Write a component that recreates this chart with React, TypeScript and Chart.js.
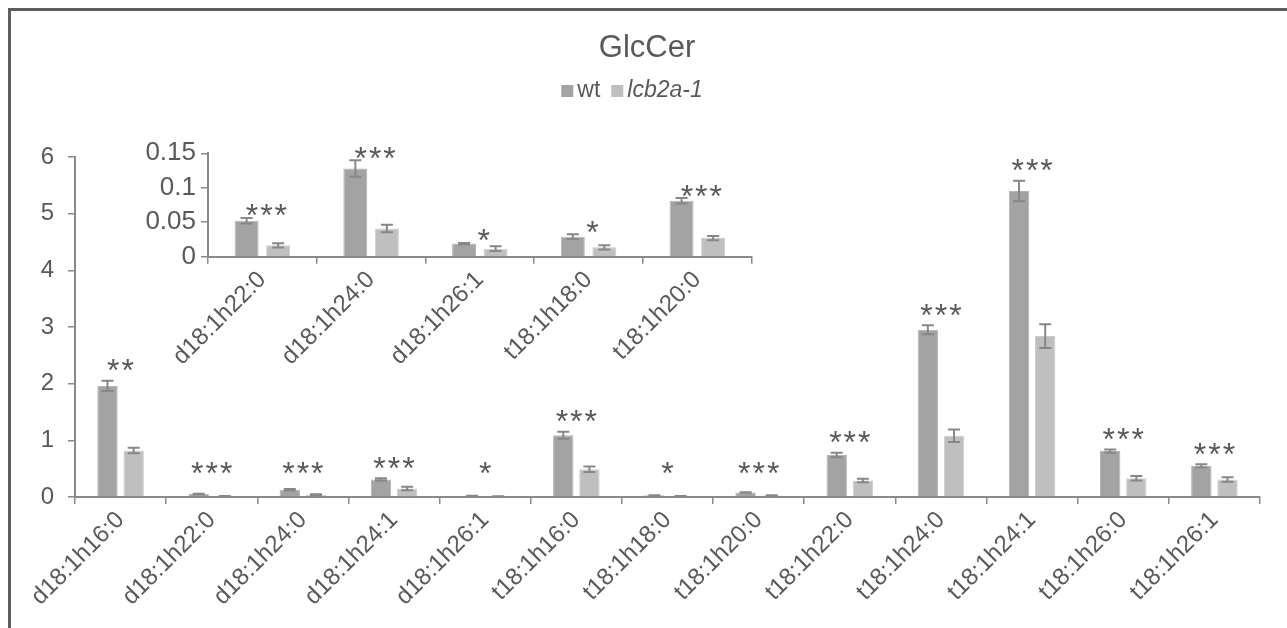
import React, { useEffect, useRef } from 'react';
import { Chart, registerables } from 'chart.js';

Chart.register(...registerables);

// ---------- DATA ----------
const categories = [
  'd18:1h16:0', 'd18:1h22:0', 'd18:1h24:0', 'd18:1h24:1', 'd18:1h26:1',
  't18:1h16:0', 't18:1h18:0', 't18:1h20:0', 't18:1h22:0', 't18:1h24:0',
  't18:1h24:1', 't18:1h26:0', 't18:1h26:1',
];
const wtValues = [1.96, 0.052, 0.128, 0.31, 0.019, 1.09, 0.029, 0.081, 0.74, 2.95, 5.40, 0.81, 0.55];
const wtErrors = [0.09, 0.004, 0.012, 0.02, 0.001, 0.06, 0.0035, 0.004, 0.04, 0.08, 0.18, 0.03, 0.03];
const lcbValues = [0.82, 0.0165, 0.041, 0.15, 0.0116, 0.49, 0.0136, 0.027, 0.29, 1.08, 2.84, 0.33, 0.31];
const lcbErrors = [0.05, 0.003, 0.0055, 0.03, 0.0035, 0.05, 0.003, 0.003, 0.03, 0.11, 0.21, 0.04, 0.04];
const significance = ['**', '***', '***', '***', '*', '***', '*', '***', '***', '***', '***', '***', '***'];

const insetCategories = ['d18:1h22:0', 'd18:1h24:0', 'd18:1h26:1', 't18:1h18:0', 't18:1h20:0'];

const mainYTicks = [0, 1, 2, 3, 4, 5, 6];
const insetYTicks = [0, 0.05, 0.1, 0.15];

const titleText = 'GlcCer';
const seriesNames = ['wt', 'lcb2a-1'];

// ---------- STYLE ----------
const FONT = '"Liberation Sans", Arial, sans-serif';
const TEXT = '#595959';
const WT_COLOR = '#a3a3a3';
const LCB_COLOR = '#bfbfbf';
const ERR_COLOR = '#878787';
const AXIS_COLOR = '#8a8a8a';

const pick = (arr: number[]) => insetCategories.map((c) => arr[categories.indexOf(c)]);
const pickS = (arr: string[]) => insetCategories.map((c) => arr[categories.indexOf(c)]);

function errStarPlugin(errs: number[][], sig: string[], o: { cap: number; fs: number; ls: number; gap: number; minGap: number; dx: number }) {
  return {
    id: 'errstars',
    afterDatasetsDraw(chart: any) {
      const ctx = chart.ctx;
      const yScale = chart.scales.y;
      const xScale = chart.scales.x;
      ctx.save();
      ctx.strokeStyle = ERR_COLOR;
      ctx.lineWidth = 2;
      const tops: number[] = sig.map(() => Infinity);
      chart.data.datasets.forEach((ds: any, di: number) => {
        const meta = chart.getDatasetMeta(di);
        meta.data.forEach((bar: any, i: number) => {
          const v = ds.data[i];
          const e = errs[di][i];
          const x = bar.x;
          const yt = yScale.getPixelForValue(v + e);
          const yb = yScale.getPixelForValue(Math.max(0, v - e));
          ctx.beginPath();
          ctx.moveTo(x, yt);
          ctx.lineTo(x, yb);
          ctx.moveTo(x - o.cap / 2, yt);
          ctx.lineTo(x + o.cap / 2, yt);
          ctx.moveTo(x - o.cap / 2, yb);
          ctx.lineTo(x + o.cap / 2, yb);
          ctx.stroke();
          tops[i] = Math.min(tops[i], yt);
        });
      });
      ctx.fillStyle = TEXT;
      ctx.font = `${o.fs}px ${FONT}`;
      try { (ctx as any).letterSpacing = `${o.ls}px`; } catch (e) { /* ignore */ }
      ctx.textAlign = 'center';
      ctx.textBaseline = 'alphabetic';
      const zero = yScale.getPixelForValue(0);
      sig.forEach((s, i) => {
        const cx = xScale.getPixelForValue(i) + o.dx + o.ls / 2;
        const cy = Math.min(tops[i] - o.gap, zero - o.minGap);
        ctx.fillText(s, cx, cy + 0.575 * o.fs);
      });
      ctx.restore();
    },
  };
}

const titleLegendPlugin = {
  id: 'titleLegend',
  afterDraw(chart: any) {
    const ctx = chart.ctx;
    ctx.save();
    ctx.fillStyle = TEXT;
    ctx.textAlign = 'center';
    ctx.textBaseline = 'middle';
    ctx.font = `31px ${FONT}`;
    ctx.fillText(titleText, 647, 48);

    const fs = 23;
    const box = 12;
    const fontN = `${fs}px ${FONT}`;
    const fontI = `italic ${fs}px ${FONT}`;
    ctx.font = fontN;
    const w1 = ctx.measureText(seriesNames[0]).width;
    ctx.font = fontI;
    const w2 = ctx.measureText(seriesNames[1]).width;
    const total = box + 4 + w1 + 11 + box + 4 + w2;
    let x = 632 - total / 2;
    const cy = 91;
    ctx.textAlign = 'left';
    ctx.fillStyle = WT_COLOR;
    ctx.fillRect(x, cy - box / 2, box, box);
    x += box + 4;
    ctx.fillStyle = TEXT;
    ctx.font = fontN;
    ctx.fillText(seriesNames[0], x, cy);
    x += w1 + 11;
    ctx.fillStyle = LCB_COLOR;
    ctx.fillRect(x, cy - box / 2, box, box);
    x += box + 4;
    ctx.fillStyle = TEXT;
    ctx.font = fontI;
    ctx.fillText(seriesNames[1], x, cy);
    ctx.restore();
  },
};

function makeConfig(p: {
  labels: string[]; wt: number[]; lcb: number[]; ticks: number[];
  catPct: number; barPct: number; padding: any; yWidth: number; xHeight: number;
  xfs: number; yfs: number; yPad: number; extraPlugins: any[];
}) {
  return {
    type: 'bar',
    data: {
      labels: p.labels,
      datasets: [
        { label: seriesNames[0], data: p.wt, backgroundColor: WT_COLOR, borderColor: '#b4b4b4', borderWidth: 1, categoryPercentage: p.catPct, barPercentage: p.barPct },
        { label: seriesNames[1], data: p.lcb, backgroundColor: LCB_COLOR, borderColor: '#cdcdcd', borderWidth: 1, categoryPercentage: p.catPct, barPercentage: p.barPct },
      ],
    },
    options: {
      responsive: false,
      animation: false,
      maintainAspectRatio: false,
      layout: { padding: p.padding },
      plugins: { legend: { display: false }, title: { display: false }, tooltip: { enabled: false } },
      scales: {
        x: {
          offset: true,
          grid: { display: true, offset: true, drawOnChartArea: false, drawTicks: true, tickLength: 7, color: AXIS_COLOR, lineWidth: 1.5 },
          border: { display: true, color: AXIS_COLOR, width: 2 },
          ticks: { color: TEXT, font: { family: FONT, size: p.xfs }, minRotation: 45, maxRotation: 45, autoSkip: false, padding: 2 },
          afterFit: (s: any) => { s.height = p.xHeight; s.paddingLeft = 0; s.paddingRight = 0; },
        },
        y: {
          min: p.ticks[0],
          max: p.ticks[p.ticks.length - 1],
          afterBuildTicks: (s: any) => { s.ticks = p.ticks.map((v) => ({ value: v })); },
          grid: { display: true, drawOnChartArea: false, drawTicks: true, tickLength: 7, color: AXIS_COLOR, lineWidth: 1.5 },
          border: { display: true, color: AXIS_COLOR, width: 2 },
          ticks: { color: TEXT, font: { family: FONT, size: p.yfs }, padding: p.yPad, callback: (v: any) => String(Number(v)) },
          afterFit: (s: any) => { s.width = p.yWidth; s.paddingTop = 0; s.paddingBottom = 0; },
        },
      },
    },
    plugins: p.extraPlugins,
  } as any;
}

export default function App() {
  const mainRef = useRef<HTMLCanvasElement>(null);
  const insetRef = useRef<HTMLCanvasElement>(null);

  useEffect(() => {
    const main = new Chart(mainRef.current as HTMLCanvasElement, makeConfig({
      labels: categories, wt: wtValues, lcb: lcbValues, ticks: mainYTicks,
      catPct: 0.574, barPct: 0.78,
      padding: { left: 0, right: 27, top: 157, bottom: 0 },
      yWidth: 75, xHeight: 131, xfs: 24, yfs: 24, yPad: 14,
      extraPlugins: [errStarPlugin([wtErrors, lcbErrors], significance, { cap: 12, fs: 32, ls: 2, gap: 18, minGap: 31, dx: 0 }), titleLegendPlugin],
    }));
    const inset = new Chart(insetRef.current as HTMLCanvasElement, makeConfig({
      labels: insetCategories, wt: pick(wtValues), lcb: pick(lcbValues), ticks: insetYTicks,
      catPct: 0.58, barPct: 0.76,
      padding: { left: 0, right: 48.3, top: 33.3, bottom: 0 },
      yWidth: 108, xHeight: 163.3, xfs: 24, yfs: 26, yPad: 5,
      extraPlugins: [errStarPlugin([pick(wtErrors), pick(lcbErrors)], pickS(significance), { cap: 12, fs: 32, ls: 2, gap: 10, minGap: 8, dx: 4 })],
    }));
    return () => { main.destroy(); inset.destroy(); };
  }, []);

  return (
    <div style={{ position: 'fixed', left: 0, top: 0, width: 1287, height: 628, overflow: 'hidden', background: '#fff' }}>
      <div style={{ position: 'absolute', left: 8, top: 8, width: 1320, height: 700, border: '3px solid #5f5f5f', boxSizing: 'border-box' }} />
      <canvas ref={mainRef} width={1287} height={628} style={{ position: 'absolute', left: 0, top: 0, width: 1287, height: 628 }} />
      <canvas ref={insetRef} width={700} height={300} style={{ position: 'absolute', left: 100, top: 120, width: 700, height: 300 }} />
    </div>
  );
}
